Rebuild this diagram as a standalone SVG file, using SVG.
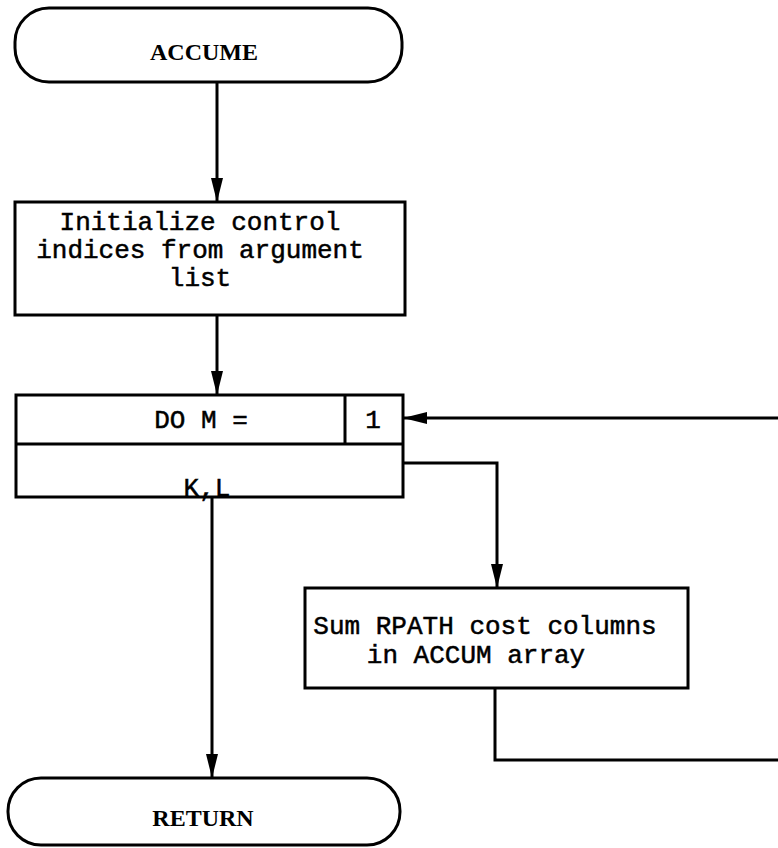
<svg xmlns="http://www.w3.org/2000/svg" width="778" height="848" viewBox="0 0 778 848">
<style>
.box{fill:#fff;stroke:#000;stroke-width:3}
.ln{fill:none;stroke:#000;stroke-width:3}
.serif{font-family:"Liberation Serif","Times New Roman",serif;font-size:24px;font-weight:bold;fill:#000}
.mono{font-family:"Liberation Mono","Courier New",monospace;font-size:26px;fill:#000;stroke:#000;stroke-width:0.5}
</style>
<defs>
<marker id="arr" markerUnits="userSpaceOnUse" markerWidth="26" markerHeight="14" refX="24" refY="7" orient="auto">
<path d="M0,1 L24,7 L0,13 Z" fill="#000"/>
</marker>
</defs>
<rect width="778" height="848" fill="#fff"/>
<g id="connectors">
<path class="ln" d="M217,82 V202" marker-end="url(#arr)"/>
<path class="ln" d="M217,315 V395" marker-end="url(#arr)"/>
<path class="ln" d="M778,418 H403" marker-end="url(#arr)"/>
<path class="ln" d="M403,463 H497 V588" marker-end="url(#arr)"/>
<path class="ln" d="M495,688 V760 H778"/>
<path class="ln" d="M212,497 V778" marker-end="url(#arr)"/>
</g>
<g id="accume">
<rect class="box" x="15" y="8" width="387" height="74" rx="34"/>
<text class="serif" x="204" y="60" text-anchor="middle">ACCUME</text>
</g>
<g id="init">
<rect class="box" x="15" y="202" width="390" height="113"/>
<text class="mono" x="200" y="230" text-anchor="middle">Initialize control</text>
<text class="mono" x="200" y="258" text-anchor="middle">indices from argument</text>
<text class="mono" x="200" y="286" text-anchor="middle">list</text>
</g>
<g id="doloop">
<rect class="box" x="16" y="395" width="387" height="102"/>
<path class="ln" d="M16,444 H403 M345,395 V444"/>
<text class="mono" x="201" y="428" text-anchor="middle">DO M =</text>
<text class="mono" x="373" y="428" text-anchor="middle">1</text>
<text class="mono" x="207" y="496" text-anchor="middle">K,L</text>
</g>
<g id="sum">
<rect class="box" x="305" y="588" width="383" height="100"/>
<text class="mono" x="485" y="634" text-anchor="middle">Sum RPATH cost columns</text>
<text class="mono" x="476" y="663" text-anchor="middle">in ACCUM array</text>
</g>
<g id="return">
<rect class="box" x="8" y="778" width="392" height="67" rx="33"/>
<text class="serif" x="203" y="826" text-anchor="middle">RETURN</text>
</g>
</svg>
